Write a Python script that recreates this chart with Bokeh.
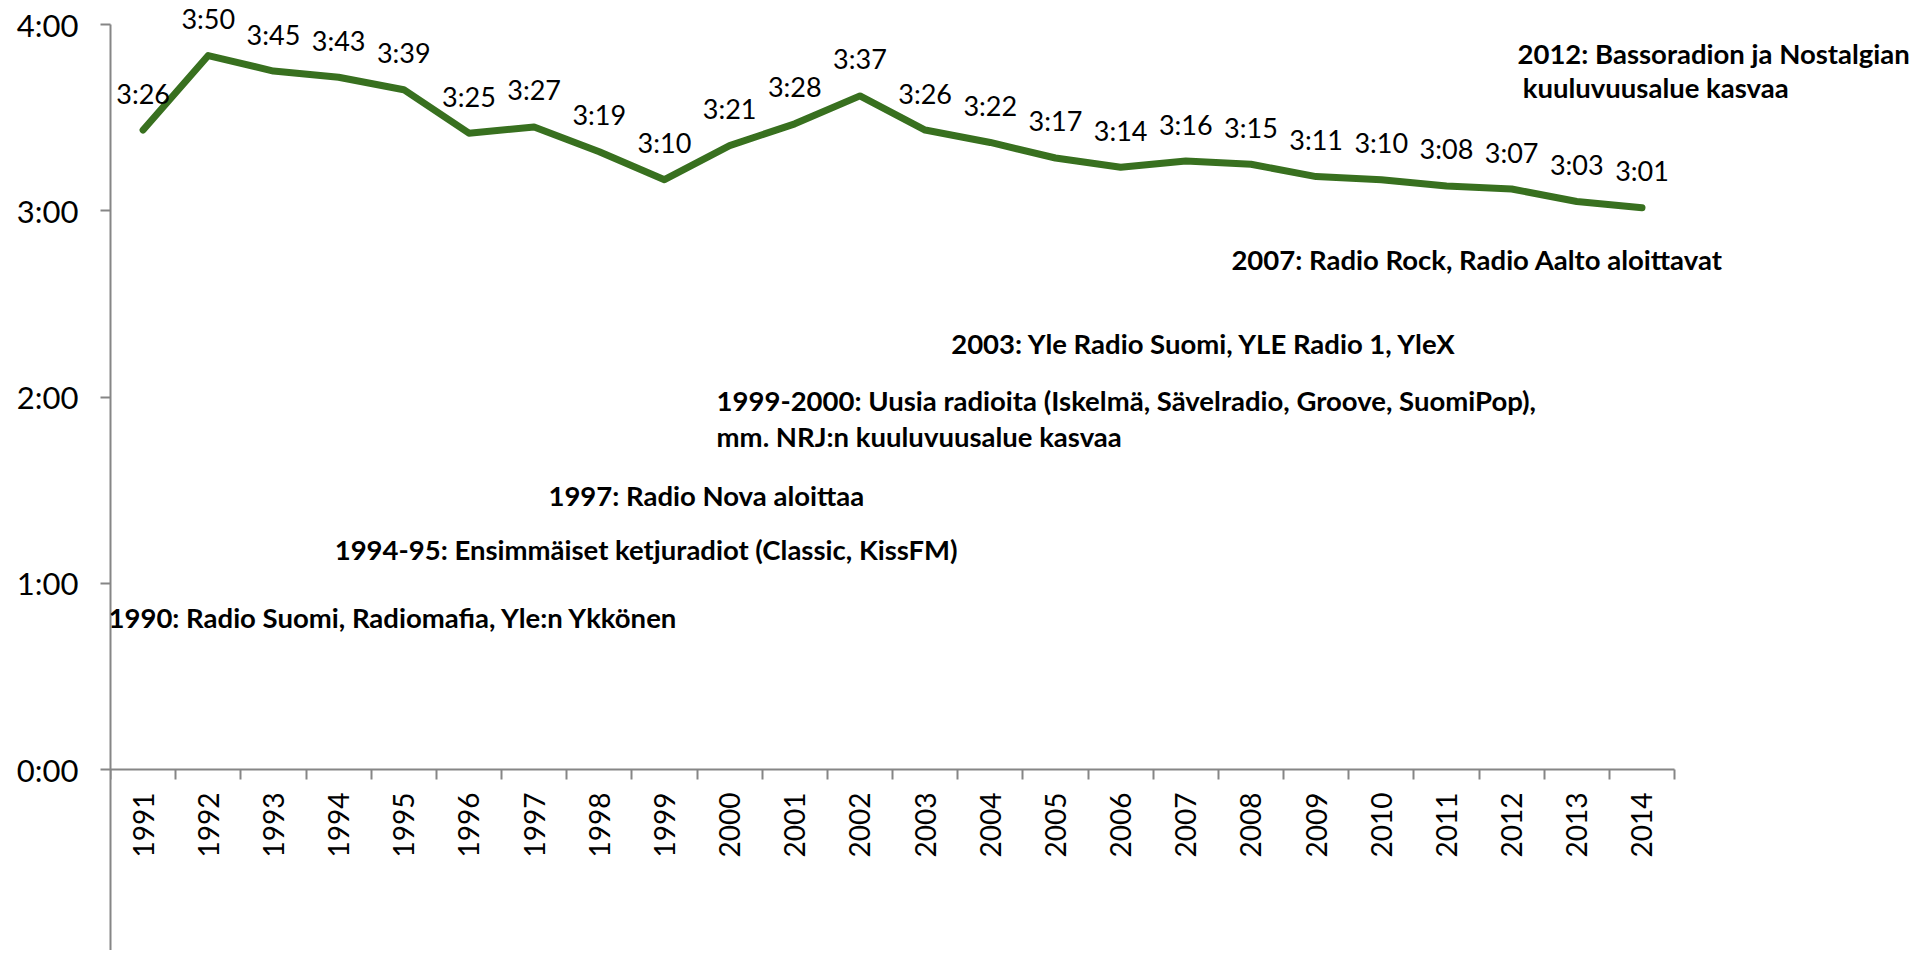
from math import pi
from bokeh.plotting import figure
from bokeh.models import Range1d, FixedTicker, Label, ColumnDataSource, LinearAxis
from bokeh.embed import file_html
from bokeh.resources import INLINE
from bokeh.core.properties import value

# ---- data ----
years = ["1991", "1992", "1993", "1994", "1995", "1996", "1997", "1998",
         "1999", "2000", "2001", "2002", "2003", "2004", "2005", "2006",
         "2007", "2008", "2009", "2010", "2011", "2012", "2013", "2014"]
times = ["3:26", "3:50", "3:45", "3:43", "3:39", "3:25", "3:27", "3:19",
         "3:10", "3:21", "3:28", "3:37", "3:26", "3:22", "3:17", "3:14",
         "3:16", "3:15", "3:11", "3:10", "3:08", "3:07", "3:03", "3:01"]
y_ticks = [0, 1, 2, 3, 4]
y_tick_labels = ["0:00", "1:00", "2:00", "3:00", "4:00"]
events = [
    "1990: Radio Suomi, Radiomafia, Yle:n Ykkönen",
    "1994-95: Ensimmäiset ketjuradiot (Classic, KissFM)",
    "1997: Radio Nova aloittaa",
    "1999-2000: Uusia radioita (Iskelmä, Sävelradio, Groove, SuomiPop),",
    "mm. NRJ:n kuuluvuusalue kasvaa",
    "2003: Yle Radio Suomi, YLE Radio 1, YleX",
    "2007: Radio Rock, Radio Aalto aloittavat",
    "2012: Bassoradion ja Nostalgian",
    "kuuluvuusalue kasvaa",
]

# ---- layout constants (positions of event notes, in axis units) ----
event_x = [-0.03, 3.44, 6.72, 9.30, 9.30, 12.90, 17.20, 21.59, 21.67]
event_y = [0.816, 1.181, 1.471, 1.981, 1.788, 2.287, 2.738, 3.844, 3.662]

hours = [int(t.split(":")[0]) + int(t.split(":")[1]) / 60 for t in times]
centers = [i + 0.5 for i in range(len(years))]
bounds_x = [i for i in range(len(years) + 1)]

FONT = "Lato"
AXIS_COL = "#868686"
LINE_COL = "#38701F"

W, H = 1920, 950
LEFT = 110
PX_X = 65.17      # pixels per category
PX_Y = 186.25     # pixels per hour
TOP4 = 24         # pixel row of 4:00
Y0 = 769          # pixel row of 0:00

p = figure(width=W, height=H,
           x_range=Range1d(0, (W - LEFT) / PX_X),
           y_range=Range1d(-(H - Y0) / PX_Y, 4 + TOP4 / PX_Y),
           output_backend="svg", toolbar_location=None,
           x_axis_location=None, y_axis_location=None,
           min_border_left=LEFT, min_border_right=0,
           min_border_top=0, min_border_bottom=0)
p.outline_line_color = None
p.xgrid.grid_line_color = None
p.ygrid.grid_line_color = None
p.background_fill_color = "white"
p.border_fill_color = "white"

yaxis = LinearAxis(
    ticker=FixedTicker(ticks=y_ticks),
    major_label_overrides={t: l for t, l in zip(y_ticks, y_tick_labels)},
    bounds=(-(H - Y0) / PX_Y, 4),
    axis_line_color=AXIS_COL, axis_line_width=2,
    major_tick_line_color=AXIS_COL, major_tick_line_width=2,
    major_tick_in=0, major_tick_out=10,
    minor_tick_line_color=None,
    major_label_standoff=22,
    major_label_text_font=FONT, major_label_text_font_size="31px",
    major_label_text_color="black",
)
p.add_layout(yaxis, "left")

xaxis = LinearAxis(
    fixed_location=0,
    ticker=FixedTicker(ticks=centers, minor_ticks=bounds_x),
    major_label_overrides={c: y for c, y in zip(centers, years)},
    bounds=(0, len(years)),
    axis_line_color=AXIS_COL, axis_line_width=2,
    major_tick_line_color=None,
    minor_tick_line_color=AXIS_COL, minor_tick_line_width=2,
    minor_tick_in=0, minor_tick_out=10,
    major_label_orientation=pi / 2,
    major_label_standoff=13,
    major_label_text_font=FONT, major_label_text_font_size="28px",
    major_label_text_color="black",
)
p.add_layout(xaxis, "below")

src = ColumnDataSource(dict(x=centers, y=hours, label=times))
p.line("x", "y", source=src, line_color=LINE_COL, line_width=7,
       line_join="round", line_cap="round")
p.text("x", "y", text="label", source=src, y_offset=-37,
       text_align="center", text_baseline="middle",
       text_font=value(FONT), text_font_size="27px", text_color="black")

for txt, ex, ey in zip(events, event_x, event_y):
    p.add_layout(Label(x=ex, y=ey, text=txt, text_align="left",
                       text_baseline="middle", text_font=FONT,
                       text_font_style="bold", text_font_size="27.5px",
                       text_color="black"))

open("out.html", "w").write(file_html(p, INLINE))
